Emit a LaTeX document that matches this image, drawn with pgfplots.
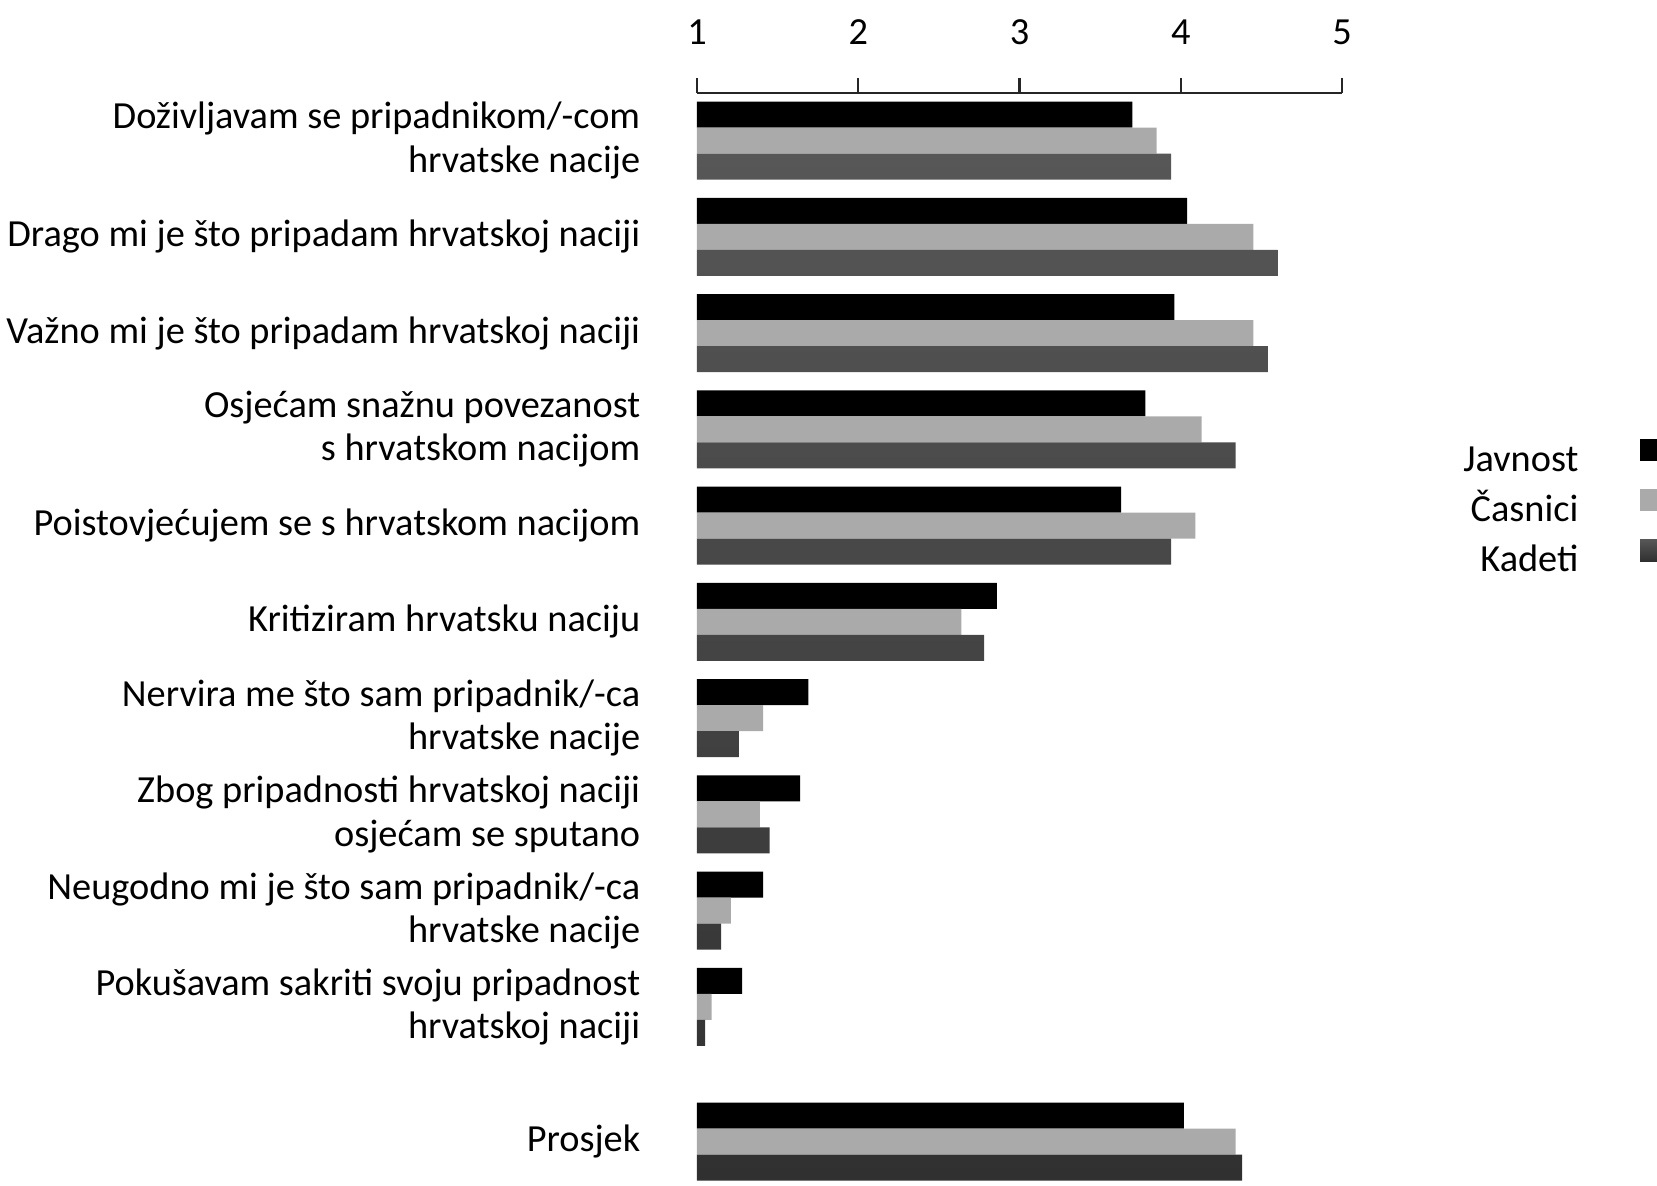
\documentclass[border=0pt]{standalone}
\usepackage{fontspec}
\setmainfont{Carlito}
\usepackage{pgfplots}
\pgfplotsset{compat=1.18}
\definecolor{lg}{HTML}{AAAAAA}
\definecolor{dgt}{HTML}{575757}
\definecolor{dgb}{HTML}{303030}
\begin{document}
\begin{tikzpicture}
\begin{axis}[
 scale only axis, width=193.5pt, height=327.6pt,
 xmin=1, xmax=5, ymin=-0.495, ymax=10.85, y dir=reverse,
 xbar, bar width=0.27,
 axis x line*=top, axis y line*=left,
 x axis line style={-, line width=0.7pt, color=black!85},
 y axis line style={draw=none},
 xtick={1,2,3,4,5}, tick align=outside, major tick length=4.5pt,
 xtick style={line width=0.7pt, color=black!85},
 ytick={0,1,2,3,4,5,6,7,8,9,10.4}, ytick style={draw=none},
 /pgf/number format/assume math mode=true,
 xticklabel style={yshift=6.5pt, font=\fontsize{11.5}{13}\selectfont},
 yticklabel style={align=right, font=\fontsize{11.5}{13}\selectfont, xshift=-9pt},
 yticklabels={{Doživljavam se pripadnikom/-com\\hrvatske nacije},
   {Drago mi je što pripadam hrvatskoj naciji},
   {Važno mi je što pripadam hrvatskoj naciji},
   {Osjećam snažnu povezanost\\s hrvatskom nacijom},
   {Poistovjećujem se s hrvatskom nacijom},
   {Kritiziram hrvatsku naciju},
   {Nervira me što sam pripadnik/-ca\\hrvatske nacije},
   {Zbog pripadnosti hrvatskoj naciji\\osjećam se sputano},
   {Neugodno mi je što sam pripadnik/-ca\\hrvatske nacije},
   {Pokušavam sakriti svoju pripadnost\\hrvatskoj naciji},
   {Prosjek}},
 legend style={draw=none, fill=none, at={(1.488,0.617)}, anchor=east,
   inner sep=0pt, outer sep=0pt, font=\fontsize{11.5}{13}\selectfont,
   nodes={inner sep=2.5pt, text height=8pt, text depth=2pt}, row sep=0pt,
   /tikz/every odd column/.append style={column sep=16pt}},
 legend cell align=right, legend plot pos=right,
 legend image code/.code={\path[#1,draw=none] (0pt,0pt) rectangle (5pt,6.6pt);},
]
\addplot[fill=black, draw=none, bar shift=-0.27] coordinates {
 (3.70,0) (4.04,1) (3.96,2) (3.78,3) (3.63,4) (2.86,5) (1.69,6) (1.64,7) (1.41,8) (1.28,9) (4.02,10.4)};
\addlegendentry{Javnost}
\addplot[fill=lg, draw=none, bar shift=0] coordinates {
 (3.85,0) (4.45,1) (4.45,2) (4.13,3) (4.09,4) (2.64,5) (1.41,6) (1.39,7) (1.21,8) (1.09,9) (4.34,10.4)};
\addlegendentry{Časnici}
\addplot[top color=dgt, bottom color=dgb, draw=none, bar shift=0.27] coordinates {
 (3.94,0) (4.60,1) (4.54,2) (4.34,3) (3.94,4) (2.78,5) (1.26,6) (1.45,7) (1.15,8) (1.05,9) (4.38,10.4)};
\addlegendentry{Kadeti}
\end{axis}
\pgfresetboundingbox
\path (current axis.north west) ++(-209.1pt,27.9pt) rectangle ++(497.1pt,-355.5pt);
\end{tikzpicture}
\end{document}
